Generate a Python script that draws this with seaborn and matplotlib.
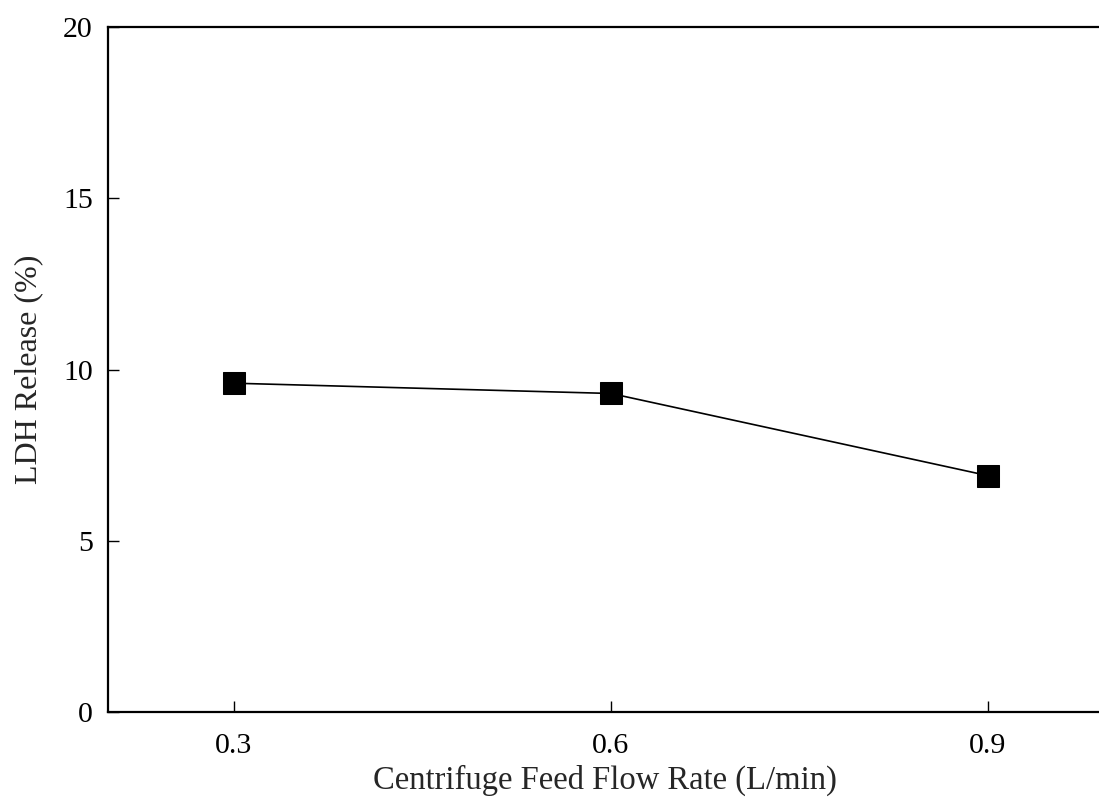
import matplotlib
matplotlib.use("Agg")
import matplotlib.pyplot as plt
import seaborn as sns
import pandas as pd

flow_rate = [0.3, 0.6, 0.9]
ldh_release = [9.6, 9.3, 6.9]
x_ticks = [0.3, 0.6, 0.9]
y_ticks = [0, 5, 10, 15, 20]

sns.set_style("ticks")
plt.rcParams['font.family'] = ['Liberation Serif', 'DejaVu Serif']

df = pd.DataFrame({"flow": flow_rate, "ldh": ldh_release})

fig = plt.figure(figsize=(10.99, 8), dpi=100)
ax = fig.add_axes([108/1099, 1-712/800, 1-108/1099 + 0.002, (712-27)/800])
sns.lineplot(data=df, x="flow", y="ldh", ax=ax, color="black", linewidth=1.2,
             marker="s", markersize=15.5, markeredgecolor="black", markerfacecolor="black")

ax.set_xlim(0.2, 0.99)
ax.set_ylim(0, 20)
ax.set_xticks(x_ticks)
ax.set_xticklabels([f"{v:.1f}" for v in x_ticks])
ax.set_yticks(y_ticks)
ax.set_yticklabels([str(v) for v in y_ticks])
ax.tick_params(direction="in", length=8, width=1, labelsize=21.5, colors="black")
ax.tick_params(axis="x", pad=15)
ax.tick_params(axis="y", pad=11)
ax.set_xlabel("Centrifuge Feed Flow Rate (L/min)", fontsize=23.5, labelpad=4)
ax.set_ylabel("LDH Release (%)", fontsize=23, labelpad=14)
for s in ["left", "bottom", "top"]:
    ax.spines[s].set_visible(True)
    ax.spines[s].set_linewidth(1.6)
    ax.spines[s].set_color("black")
ax.spines["right"].set_visible(False)

fig.savefig("out.png", dpi=100)
